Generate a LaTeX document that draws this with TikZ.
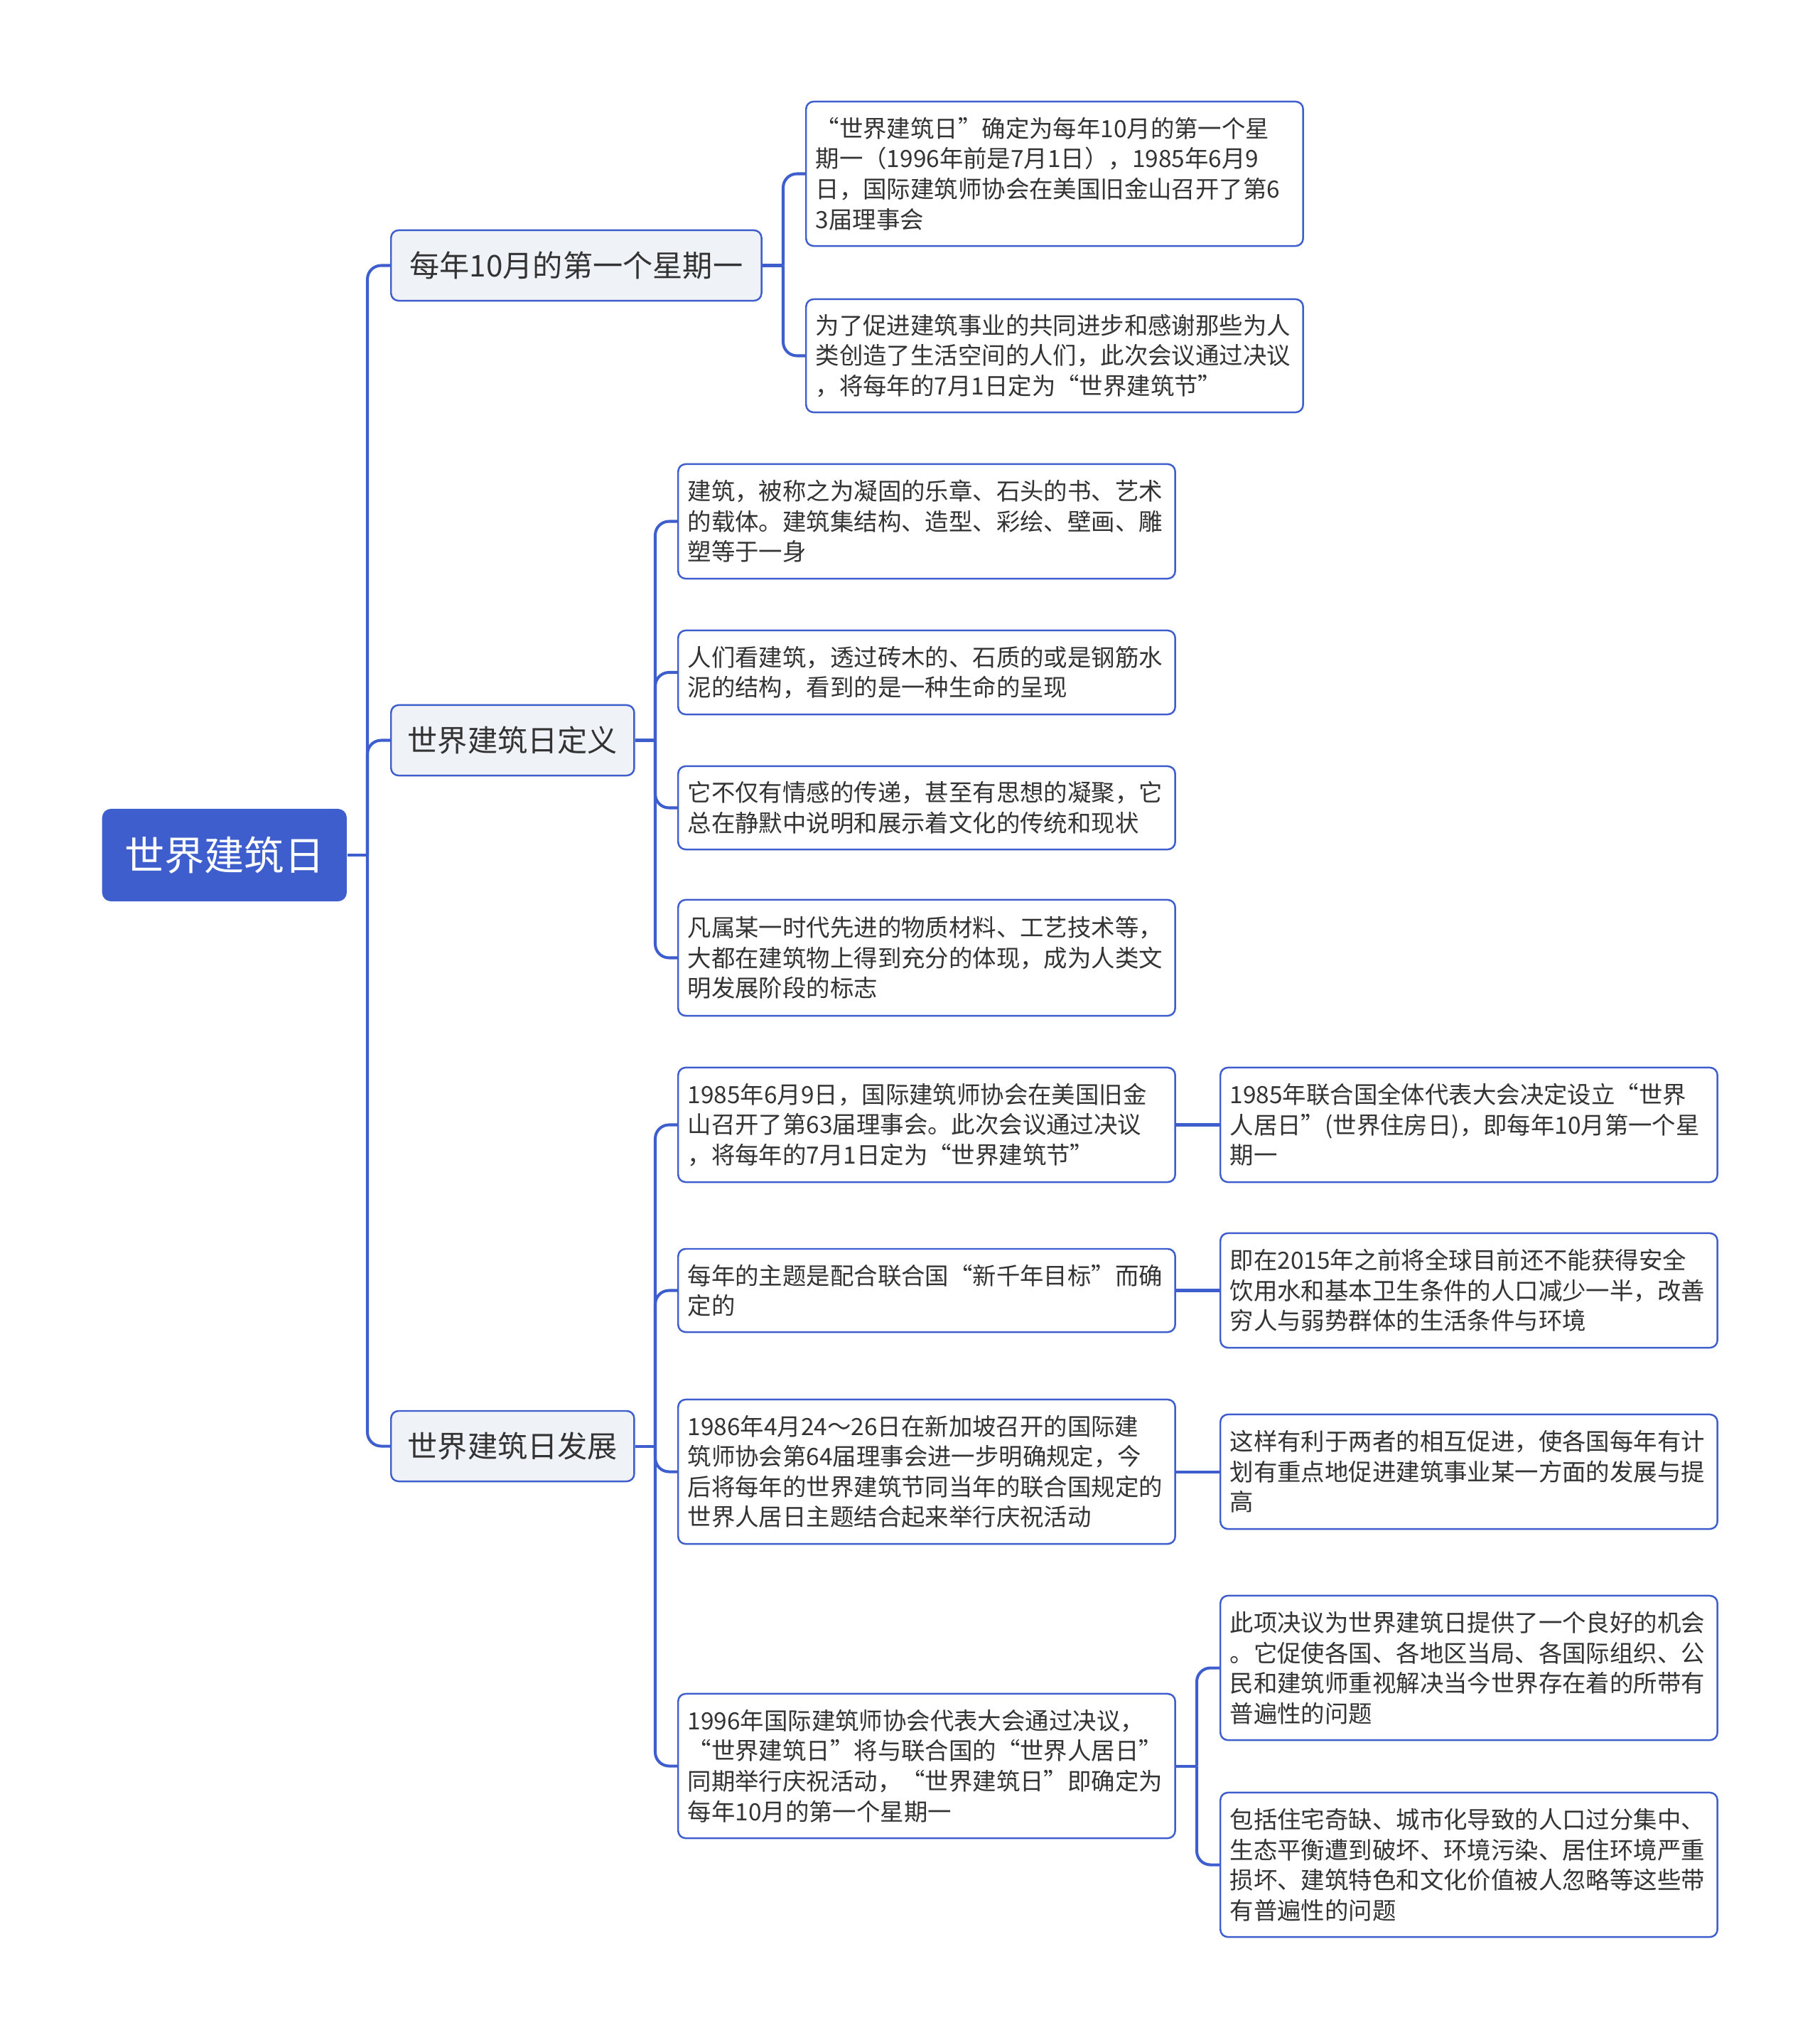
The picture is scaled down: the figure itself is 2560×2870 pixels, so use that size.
\documentclass[tikz,border=0pt]{standalone}
\usepackage{fontspec}
\setmainfont{Noto Sans CJK SC}
\definecolor{rootblue}{RGB}{61,94,204}
\definecolor{topicfill}{RGB}{239,242,247}
\definecolor{inkgray}{RGB}{51,51,51}
\tikzset{
  rootbox/.style={fill=rootblue,text=white,rounded corners=3.5pt,minimum width=3.44cm,
    minimum height=1.3cm,font=\fontsize{16pt}{19pt}\selectfont},
  topic/.style={draw=rootblue,line width=0.7pt,fill=topicfill,text=inkgray,rounded corners=3pt,
    minimum height=0.99cm,font=\fontsize{12pt}{14pt}\selectfont},
  leaf/.style={draw=rootblue,line width=0.7pt,fill=white,text=inkgray,rounded corners=3pt,
    text width=6.72cm,inner xsep=0.135cm,align=left,font=\fontsize{9.5pt}{12.1pt}\selectfont},
  conn/.style={draw=rootblue,line width=1.15pt,rounded corners=5.5pt}
}
\begin{document}
\begin{tikzpicture}[x=0.01cm,y=-0.01cm]
\useasboundingbox (0,0) rectangle (2560,2870);
\node[rootbox,anchor=west] (root) at (143,1203) {世界建筑日};
\node[topic,minimum width=5.21cm,anchor=west] (t1) at (549,373.5) {每年10月的第一个星期一};
\node[topic,minimum width=3.42cm,anchor=west] (t2) at (549,1041.5) {世界建筑日定义};
\node[topic,minimum width=3.42cm,anchor=west] (t3) at (549,2034.5) {世界建筑日发展};

\node[leaf,minimum height=2.03cm,anchor=west] (a1) at (1133,244.5)
  {“世界建筑日”确定为每年10月的第一个星\\期一（1996年前是7月1日），1985年6月9\\日，国际建筑师协会在美国旧金山召开了第6\\3届理事会};
\node[leaf,minimum height=1.59cm,anchor=west] (a2) at (1133,500.5)
  {为了促进建筑事业的共同进步和感谢那些为人\\类创造了生活空间的人们，此次会议通过决议\\，将每年的7月1日定为“世界建筑节”};

\node[leaf,minimum height=1.61cm,anchor=west] (b1) at (953,733.5)
  {建筑，被称之为凝固的乐章、石头的书、艺术\\的载体。建筑集结构、造型、彩绘、壁画、雕\\塑等于一身};
\node[leaf,minimum height=1.18cm,anchor=west] (b2) at (953,946)
  {人们看建筑，透过砖木的、石质的或是钢筋水\\泥的结构，看到的是一种生命的呈现};
\node[leaf,minimum height=1.17cm,anchor=west] (b3) at (953,1136.5)
  {它不仅有情感的传递，甚至有思想的凝聚，它\\总在静默中说明和展示着文化的传统和现状};
\node[leaf,minimum height=1.63cm,anchor=west] (b4) at (953,1347.5)
  {凡属某一时代先进的物质材料、工艺技术等，\\大都在建筑物上得到充分的体现，成为人类文\\明发展阶段的标志};

\node[leaf,minimum height=1.61cm,anchor=west] (c1) at (953,1582.5)
  {1985年6月9日，国际建筑师协会在美国旧金\\山召开了第63届理事会。此次会议通过决议\\，将每年的7月1日定为“世界建筑节”};
\node[leaf,minimum height=1.17cm,anchor=west] (c2) at (953,1815.5)
  {每年的主题是配合联合国“新千年目标”而确\\定的};
\node[leaf,minimum height=2.03cm,anchor=west] (c3) at (953,2070.5)
  {1986年4月24～26日在新加坡召开的国际建\\筑师协会第64届理事会进一步明确规定，今\\后将每年的世界建筑节同当年的联合国规定的\\世界人居日主题结合起来举行庆祝活动};
\node[leaf,minimum height=2.03cm,anchor=west] (c4) at (953,2484.5)
  {1996年国际建筑师协会代表大会通过决议，\\“世界建筑日”将与联合国的“世界人居日”\\同期举行庆祝活动，“世界建筑日”即确定为\\每年10月的第一个星期一};

\node[leaf,minimum height=1.61cm,anchor=west] (d1) at (1716,1582.5)
  {1985年联合国全体代表大会决定设立“世界\\人居日”(世界住房日)，即每年10月第一个星\\期一};
\node[leaf,minimum height=1.61cm,anchor=west] (d2) at (1716,1815.5)
  {即在2015年之前将全球目前还不能获得安全\\饮用水和基本卫生条件的人口减少一半，改善\\穷人与弱势群体的生活条件与环境};
\node[leaf,minimum height=1.61cm,anchor=west] (d3) at (1716,2070.5)
  {这样有利于两者的相互促进，使各国每年有计\\划有重点地促进建筑事业某一方面的发展与提\\高};
\node[leaf,minimum height=2.03cm,anchor=west] (d4a) at (1716,2346.5)
  {此项决议为世界建筑日提供了一个良好的机会\\。它促使各国、各地区当局、各国际组织、公\\民和建筑师重视解决当今世界存在着的所带有\\普遍性的问题};
\node[leaf,minimum height=2.03cm,anchor=west] (d4b) at (1716,2623.5)
  {包括住宅奇缺、城市化导致的人口过分集中、\\生态平衡遭到破坏、环境污染、居住环境严重\\损坏、建筑特色和文化价值被人忽略等这些带\\有普遍性的问题};

\coordinate (j0) at (517,1203); \coordinate (j1) at (1102,373.5);
\coordinate (j2) at (922,1041.5); \coordinate (j3) at (922,2034.5);
\coordinate (j4) at (1684,2484.5);
\foreach \p/\j in {root/j0,t1/j1,t2/j2,t3/j3,c4/j4}
  \draw[conn] (\p.east) -- (\j);
\foreach \j/\c in {j0/t1,j0/t2,j0/t3,j1/a1,j1/a2,j2/b1,j2/b2,j2/b3,j2/b4,
                   j3/c1,j3/c2,j3/c3,j3/c4,j4/d4a,j4/d4b}
  \draw[conn] (\j) |- (\c.west);
\foreach \c/\d in {c1/d1,c2/d2,c3/d3}
  \draw[conn] (\c.east) -- (\d.west);
\end{tikzpicture}
\end{document}
